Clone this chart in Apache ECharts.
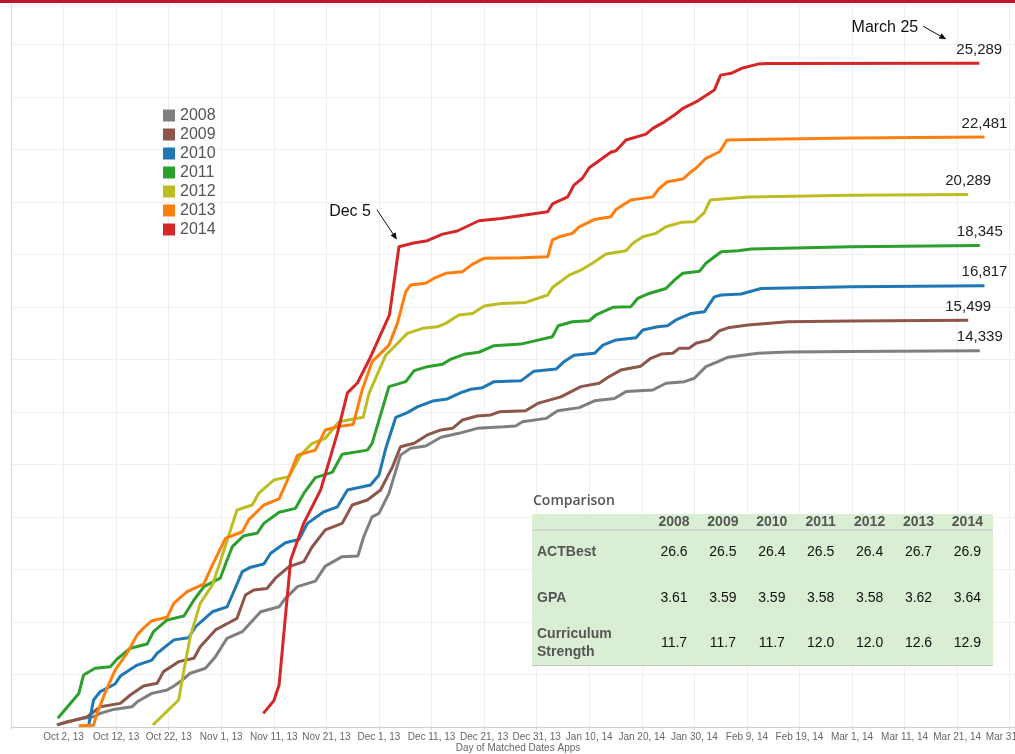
<!DOCTYPE html>
<html>
<head>
<meta charset="utf-8">
<script src="https://cdn.jsdelivr.net/npm/echarts@6/dist/echarts.min.js"></script>
<style>
  html, body { margin: 0; padding: 0; background: #fff; }
  #main { width: 1015px; height: 754px; }
</style>
</head>
<body>
<div id="main"></div>
<script>
// x = days after Sep 22 (Oct 2 = 10), y = cumulative matched apps
var years = ['2008', '2009', '2010', '2011', '2012', '2013', '2014'];
var colors = ['#7f7f7f', '#8c564b', '#1f77b4', '#2ca02c', '#bcbd22', '#ff7f0e', '#d62728'];
var tickLabels = ['Oct 2, 13', 'Oct 12, 13', 'Oct 22, 13', 'Nov 1, 13', 'Nov 11, 13', 'Nov 21, 13',
  'Dec 1, 13', 'Dec 11, 13', 'Dec 21, 13', 'Dec 31, 13', 'Jan 10, 14', 'Jan 20, 14', 'Jan 30, 14',
  'Feb 9, 14', 'Feb 19, 14', 'Mar 1, 14', 'Mar 11, 14', 'Mar 21, 14', 'Mar 31, 14'];

var s2008 = [[8.7,80],[10.6,200],[13.8,330],[15.7,390],[17.0,520],[19.5,670],[23.0,770],[24.0,960],[26.8,1280],[29.7,1410],[31.0,1560],[32.6,1790],[34.1,2050],[37.0,2240],[38.9,2680],[41.1,3380],[44.0,3630],[47.5,4390],[51.0,4580],[52.2,4900],[54.5,5350],[57.9,5560],[59.8,6130],[63.0,6490],[66.0,6520],[67.1,7250],[68.7,8010],[70.0,8140],[71.9,8900],[74.1,10360],[76.0,10620],[78.9,10710],[81.8,11040],[85.2,11190],[88.7,11380],[93.8,11440],[96.0,11470],[97.3,11630],[101.8,11760],[104.0,12050],[108.1,12170],[111.0,12430],[114.8,12520],[117.0,12780],[122.1,12840],[124.6,13100],[128.1,13160],[130.0,13290],[132.2,13730],[134.5,13920],[136.4,14090],[142.1,14240],[147.8,14290],[159.8,14310],[184.3,14339]];
var s2009 = [[8.8,80],[14.5,390],[17.0,770],[20.8,900],[22.7,1220],[25.2,1560],[27.8,1670],[29.0,2110],[31.9,2490],[34.8,2620],[36.0,3060],[38.9,3700],[41.8,4010],[43.0,4140],[44.6,5030],[46.2,5220],[48.7,5280],[50.3,5670],[52.9,6110],[55.7,6300],[57.3,6870],[59.8,7510],[63.0,7760],[64.9,8460],[67.8,8650],[70.3,9030],[72.6,9920],[74.1,10680],[76.7,10810],[79.2,11130],[81.8,11320],[84.0,11380],[85.9,11700],[88.7,11850],[91.3,11890],[92.9,12010],[97.9,12050],[100.2,12330],[104.6,12580],[108.4,12970],[111.9,13100],[113.5,13320],[116.0,13600],[119.8,13750],[121.7,14050],[123.7,14210],[125.9,14240],[127.1,14430],[129.0,14430],[130.3,14620],[132.9,14750],[134.8,15100],[136.4,15210],[140.2,15320],[147.8,15440],[159.8,15470],[182.1,15499]];
var s2010 = [[14.8,80],[15.7,1030],[17.0,1350],[19.8,1640],[20.8,1940],[24.0,2360],[26.8,2550],[27.8,2810],[31.0,3320],[33.8,3400],[35.1,3820],[38.3,4390],[41.1,4580],[42.1,5030],[44.0,5920],[45.6,6090],[48.1,6210],[49.4,6620],[52.2,7020],[54.8,7150],[56.4,7760],[59.5,8200],[62.1,8390],[64.0,9030],[68.4,9220],[70.0,9600],[71.3,10620],[73.2,11800],[75.4,11980],[77.3,12200],[80.2,12420],[83.0,12500],[85.6,12740],[87.5,12870],[89.7,12930],[91.9,13160],[97.0,13190],[99.5,13560],[103.7,13640],[105.2,13920],[107.1,14170],[111.0,14240],[112.6,14550],[115.1,14750],[118.9,14830],[120.2,15130],[123.0,15250],[124.9,15290],[126.5,15510],[129.4,15760],[131.9,15820],[133.8,16390],[135.1,16460],[138.9,16500],[142.7,16710],[159.8,16780],[185.2,16817]];
var s2011 = [[8.9,330],[12.9,1280],[13.8,1980],[16.0,2240],[18.9,2300],[20.2,2590],[22.7,3000],[25.9,3160],[27.1,3630],[29.7,4080],[32.9,4230],[34.8,4840],[36.7,5350],[39.8,5670],[41.1,6360],[42.1,6870],[44.3,7290],[46.8,7380],[48.1,7760],[51.0,8180],[54.1,8330],[55.7,8900],[57.9,9500],[61.1,9700],[63.0,10390],[67.8,10550],[68.7,10810],[71.9,12970],[75.1,13160],[76.7,13580],[79.2,13730],[82.1,13820],[83.7,14020],[86.2,14200],[89.0,14280],[91.9,14530],[97.0,14590],[103.0,14870],[104.1,15290],[106.8,15440],[110.0,15480],[111.3,15700],[114.5,15990],[117.9,16010],[119.2,16330],[121.4,16520],[124.6,16710],[126.2,17030],[127.8,17290],[131.0,17370],[132.2,17670],[135.1,18110],[138.3,18150],[140.8,18210],[159.8,18300],[184.3,18345]];
var s2012 = [[27.0,80],[31.9,1030],[32.9,2170],[34.1,3440],[36.0,4710],[38.3,5410],[39.5,6110],[43.0,8270],[45.9,8460],[47.1,8900],[50.0,9410],[52.9,9540],[55.1,10360],[57.3,10810],[59.8,11000],[62.4,11630],[67.0,11800],[68.1,12710],[71.3,14170],[72.9,14490],[75.4,15000],[78.3,15190],[81.1,15250],[82.7,15380],[85.2,15700],[87.8,15760],[90.0,16040],[93.2,16140],[97.9,16180],[102.1,16460],[103.0,16750],[106.2,17220],[108.7,17440],[110.6,17670],[113.2,18020],[117.0,18150],[118.3,18430],[120.2,18680],[122.7,18810],[124.6,19060],[127.5,19230],[130.0,19250],[131.9,19600],[133.0,20080],[140.2,20200],[159.8,20260],[182.1,20289]];
var s2013 = [[12.9,50],[15.7,70],[16.4,530],[17.9,1300],[19.8,2170],[22.1,2820],[24.0,3510],[25.2,3770],[26.8,4050],[29.7,4180],[31.0,4720],[33.5,5160],[36.7,5450],[38.3,6170],[40.8,7190],[44.0,7440],[45.2,7890],[48.1,8460],[51.0,8690],[52.6,9410],[54.5,10360],[57.9,10550],[59.8,11320],[62.1,11440],[65.1,11530],[66.8,12840],[68.7,13920],[71.9,14550],[73.5,15380],[75.1,16590],[76.0,16840],[78.9,16910],[80.5,17100],[82.7,17290],[85.9,17350],[87.8,17640],[90.0,17860],[97.0,17880],[102.1,17920],[103.0,18560],[104.3,18680],[106.8,18810],[108.1,19060],[111.0,19340],[114.1,19440],[115.1,19720],[117.9,20080],[122.1,20200],[123.3,20520],[124.9,20780],[127.8,20880],[129.4,21160],[130.3,21290],[132.2,21670],[134.8,21920],[136.2,22370],[140.8,22390],[159.8,22440],[185.2,22481]];
var s2014 = [[48.0,520],[50.0,1000],[51.0,1600],[53.2,6360],[54.1,6870],[55.7,7770],[58.9,9030],[62.1,11200],[64.0,12730],[65.9,13110],[68.4,14100],[72.0,15700],[73.8,18300],[76.6,18440],[79.2,18530],[82.1,18780],[84.9,18900],[89.0,19290],[93.2,19380],[102.1,19630],[103.0,19930],[105.9,20200],[107.1,20650],[108.7,20910],[110.0,21310],[111.6,21540],[114.1,21900],[115.1,21960],[117.0,22370],[120.8,22590],[122.1,22810],[124.3,23060],[126.2,23320],[127.8,23570],[130.6,23850],[133.8,24270],[135.0,24840],[137.0,24910],[139.0,25100],[142.1,25260],[144.0,25280],[184.2,25289]];
var allSeries = [s2008, s2009, s2010, s2011, s2012, s2013, s2014];

// comparison table
var tableYears = ['2008', '2009', '2010', '2011', '2012', '2013', '2014'];
var actBest = ['26.6', '26.5', '26.4', '26.5', '26.4', '26.7', '26.9'];
var gpa = ['3.61', '3.59', '3.59', '3.58', '3.58', '3.62', '3.64'];
var curriculum = ['11.7', '11.7', '11.7', '12.0', '12.0', '12.6', '12.9'];

var FONT = 'Arial, "Liberation Sans", sans-serif';
var myChart = echarts.init(document.getElementById('main'));

var series = allSeries.map(function (d, i) {
  var last = d[d.length - 1];
  return {
    name: years[i],
    type: 'line',
    data: d,
    showSymbol: false,
    color: colors[i],
    lineStyle: { width: 3, color: colors[i] },
    markPoint: {
      symbol: 'circle', symbolSize: 0,
      itemStyle: { color: 'rgba(0,0,0,0)' },
      label: {
        show: true, position: 'top', distance: 6,
        color: '#222', fontSize: 15, fontFamily: FONT,
        formatter: function () { return last[1].toLocaleString('en-US'); }
      },
      data: [{ coord: last }]
    }
  };
});

// table graphic
var colX = tableYears.map(function (y, i) { return 674 + i * 48.9; });
var tbl = [
  { type: 'rect', shape: { x: 532, y: 514, width: 461, height: 151 }, style: { fill: '#daeed3' } },
  { type: 'line', shape: { x1: 532, y1: 530, x2: 993, y2: 530 }, style: { stroke: '#c3c3c3', lineWidth: 1 } },
  { type: 'line', shape: { x1: 532, y1: 665.5, x2: 993, y2: 665.5 }, style: { stroke: '#c3c3c3', lineWidth: 1 } },
  { type: 'text', style: { text: 'Comparison', x: 533, y: 501, font: '600 14px "Open Sans", sans-serif', fill: '#555', verticalAlign: 'middle' } }
];
var rows = [
  { label: 'ACTBest', y: 552, vals: actBest },
  { label: 'GPA', y: 598, vals: gpa },
  { label: 'Curriculum\nStrength', y: 643, vals: curriculum }
];
tableYears.forEach(function (y, i) {
  tbl.push({ type: 'text', style: { text: y, x: colX[i], y: 522, font: 'bold 14px ' + FONT, fill: '#555', align: 'center', verticalAlign: 'middle' } });
});
rows.forEach(function (r) {
  tbl.push({ type: 'text', style: { text: r.label, x: 537, y: r.y, font: 'bold 14px ' + FONT, fill: '#555', verticalAlign: 'middle', lineHeight: 18 } });
  r.vals.forEach(function (v, i) {
    tbl.push({ type: 'text', style: { text: v, x: colX[i], y: r.y, font: '14px ' + FONT, fill: '#111', align: 'center', verticalAlign: 'middle' } });
  });
});

option = {
  animation: false,
  backgroundColor: '#fff',
  grid: { left: 11, right: 0, top: 4, bottom: 27, outerBoundsMode: 'none' },
  legend: {
    data: years,
    orient: 'vertical',
    left: 163, top: 106, padding: 0,
    icon: 'rect',
    itemWidth: 12, itemHeight: 12, itemGap: 0,
    textStyle: { fontSize: 16, color: '#555', lineHeight: 19, fontFamily: FONT }
  },
  xAxis: {
    type: 'value', min: 0, max: 191, interval: 10,
    axisLine: { lineStyle: { color: '#cfcfcf' } },
    axisTick: { show: true, length: 3, lineStyle: { color: '#d6d6d6' } },
    splitLine: { show: true, lineStyle: { color: '#efefef' } },
    axisLabel: {
      fontSize: 10, color: '#666', margin: 5, fontFamily: FONT, hideOverlap: false,
      formatter: function (v) {
        var i = (v - 10) / 10;
        return (Number.isInteger(i) && tickLabels[i]) ? tickLabels[i] : '';
      }
    }
  },
  yAxis: {
    type: 'value', min: 0, max: 27550, interval: 2000,
    axisLine: { show: true, lineStyle: { color: '#dadada' } },
    axisTick: { show: false },
    axisLabel: { show: false },
    splitLine: { show: true, lineStyle: { color: '#efefef' } }
  },
  series: series
};
myChart.setOption(option);

// annotations anchored to data points
function arrow(x1, y1, x2, y2) {
  var a = Math.atan2(y2 - y1, x2 - x1), L = 7, W = 3;
  var bx = x2 - L * Math.cos(a), by = y2 - L * Math.sin(a);
  return [
    { type: 'line', shape: { x1: x1, y1: y1, x2: bx, y2: by }, style: { stroke: '#111', lineWidth: 1 } },
    { type: 'polygon', shape: { points: [[x2, y2], [bx - W * Math.sin(a), by + W * Math.cos(a)], [bx + W * Math.sin(a), by - W * Math.cos(a)]] }, style: { fill: '#111' } }
  ];
}
var dec5 = myChart.convertToPixel({ seriesIndex: 6 }, s2014.find(function (p) { return p[0] >= 73.5; }));
var mar25 = myChart.convertToPixel({ seriesIndex: 6 }, s2014[s2014.length - 1]);
var notes = [
  { type: 'text', style: { text: 'Dec 5', x: dec5[0] - 28, y: dec5[1] - 35, font: '16px ' + FONT, fill: '#111', align: 'right', verticalAlign: 'middle' } },
  { type: 'text', style: { text: 'March 25', x: mar25[0] - 61, y: mar25[1] - 36, font: '16px ' + FONT, fill: '#111', align: 'right', verticalAlign: 'middle' } }
].concat(arrow(dec5[0] - 22, dec5[1] - 37, dec5[0] - 2, dec5[1] - 7))
 .concat(arrow(mar25[0] - 56, mar25[1] - 37, mar25[0] - 33, mar25[1] - 24));

myChart.setOption({
  graphic: [
    { type: 'rect', shape: { x: 0, y: 0, width: 1015, height: 3 }, style: { fill: '#c3122e' }, z: 10 },
    { type: 'text', style: { text: 'Day of Matched Dates Apps', x: 518, y: 748, font: '10px ' + FONT, fill: '#666', align: 'center', verticalAlign: 'middle' } },
    { type: 'group', children: tbl, z: 10 },
    { type: 'group', children: notes, z: 10 }
  ]
});
</script>
</body>
</html>
